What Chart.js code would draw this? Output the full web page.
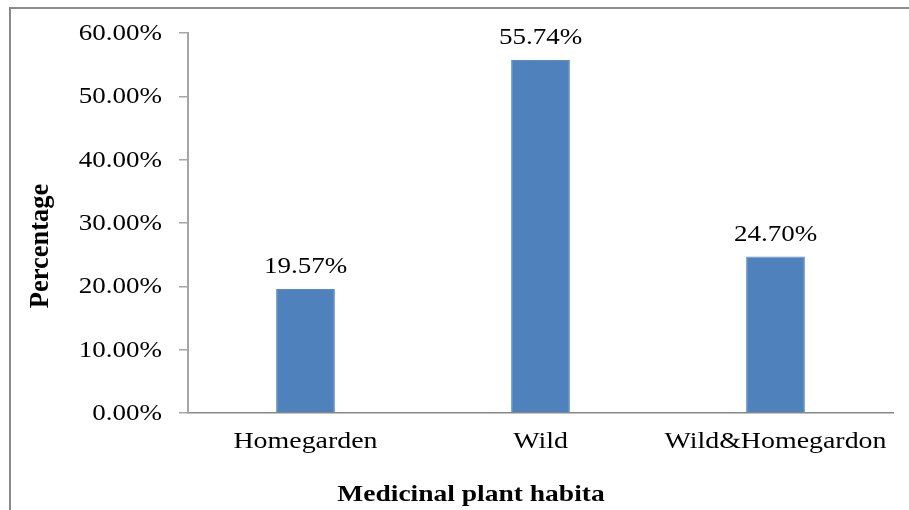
<!DOCTYPE html>
<html>
<head>
<meta charset="utf-8">
<script src="https://cdn.jsdelivr.net/npm/chart.js@4"></script>
<style>
  html, body { margin: 0; padding: 0; background: #fff; }
  #wrap { position: relative; width: 909px; height: 510px; overflow: hidden; }
  #frame { position: absolute; left: 9px; top: 7px; width: 960px; height: 560px;
           border-left: 2px solid #8a8a8a; border-top: 2px solid #8a8a8a; }
  #myChart { position: absolute; left: 0; top: 0; }
</style>
</head>
<body>
<div id="wrap">
  <div id="frame"></div>
  <canvas id="myChart" width="909" height="510"></canvas>
</div>
<script>
var habitats = ['Homegarden', 'Wild', 'Wild&Homegardon']
var percents = [19.57, 55.74, 24.70]
var yTicks = [0, 10, 20, 30, 40, 50, 60]
var xTitle = 'Medicinal plant habita'
var yTitle = 'Percentage'

const fam = '"Liberation Serif", "Times New Roman", serif'

// o texto da figura original é mais largo, então esticamos na horizontal
function texto(ctx, txt, x, y, align, sx) {
    ctx.save()
    ctx.translate(x, y)
    ctx.scale(sx, 1)
    ctx.textAlign = align
    ctx.fillText(txt, 0, 0)
    ctx.restore()
}

const rotulos = {
    id: 'rotulos',
    afterDraw(chart) {
        const ctx = chart.ctx
        const xs = chart.scales.x
        const ys = chart.scales.y
        const meta = chart.getDatasetMeta(0)
        ctx.save()
        ctx.fillStyle = '#000'
        ctx.textBaseline = 'alphabetic'

        // valores em cima das barras
        ctx.font = '22.5px ' + fam
        meta.data.forEach((bar, i) => {
            texto(ctx, percents[i].toFixed(2) + '%', bar.x, bar.y - 16, 'center', 1.2)
        })

        // eixo y
        yTicks.forEach(v => {
            texto(ctx, v.toFixed(2) + '%', 162, ys.getPixelForValue(v) + 7, 'right', 1.2)
        })

        // categorias
        habitats.forEach((h, i) => {
            texto(ctx, h, xs.getPixelForValue(i), 448, 'center', 1.24)
        })

        // títulos
        ctx.font = 'bold 23.5px ' + fam
        texto(ctx, xTitle, 471, 501, 'center', 1.17)

        ctx.font = 'bold 26.5px ' + fam
        ctx.save()
        ctx.translate(48, 246)
        ctx.rotate(-Math.PI / 2)
        ctx.textAlign = 'center'
        ctx.fillText(yTitle, 0, 0)
        ctx.restore()

        ctx.restore()
    }
}

const data = {
    labels: habitats,
    datasets: [{
        data: percents,
        backgroundColor: '#4f81bd',
        borderColor: '#5b8cc6',
        borderWidth: 1,
        barPercentage: 0.25,
        categoryPercentage: 1
    }]
}

const opcoes = {
    responsive: false,
    animation: false,
    layout: { padding: { left: 0, right: 16, top: 33, bottom: 0 } },
    plugins: { legend: { display: false }, tooltip: { enabled: false } },
    scales: {
        x: {
            afterFit: (s) => { s.height = 97 },
            grid: { display: true, drawOnChartArea: false, drawTicks: false },
            border: { display: true, color: '#878787', width: 1.5 },
            ticks: { display: false }
        },
        y: {
            min: 0, max: 60,
            afterFit: (s) => { s.width = 188 },
            afterBuildTicks: (s) => { s.ticks = yTicks.map(v => ({ value: v })) },
            grid: { display: true, drawOnChartArea: false, drawTicks: true, tickLength: 9, tickColor: '#a6a6a6', lineWidth: 1.5 },
            border: { display: true, color: '#a6a6a6', width: 2 },
            ticks: { display: false }
        }
    }
}

const config = {
    type: 'bar',
    data: data,
    options: opcoes,
    plugins: [rotulos]
}

const grafico = new Chart(document.getElementById('myChart'), config)
</script>
</body>
</html>
